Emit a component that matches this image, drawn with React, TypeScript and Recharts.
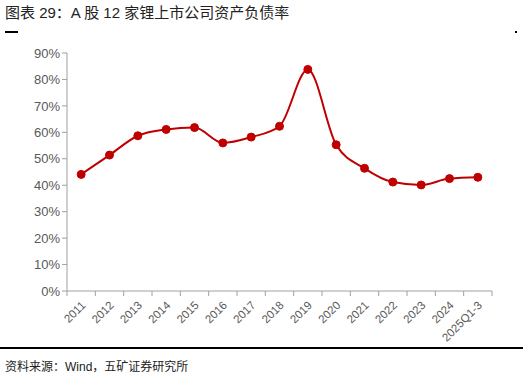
import { LineChart, Line, XAxis, YAxis } from 'recharts';

const years = ['2011', '2012', '2013', '2014', '2015', '2016', '2017', '2018', '2019', '2020', '2021', '2022', '2023', '2024', '2025Q1-3'];
const debtRatio = [44.1, 51.4, 58.7, 61.1, 61.8, 56.0, 58.2, 62.3, 83.8, 55.3, 46.4, 41.2, 40.1, 42.5, 43.0];
const yTicks = [0, 10, 20, 30, 40, 50, 60, 70, 80, 90];

const data = years.map((y, i) => ({ year: y, ratio: debtRatio[i] }));

const W = 523;
const H = 350;
const LEFT = 67;
const RIGHT = 31;
const band = (W - LEFT - RIGHT) / years.length;
const axisColor = '#a0a0a0';
const textColor = '#595959';
const cjk = '"Liberation Sans", "Noto Sans CJK SC", sans-serif';

function XTick(props: any) {
  const { x, y, payload, index } = props;
  const last = index === years.length - 1;
  return (
    <g>
      <line x1={x - band / 2} y1={y - 8} x2={x - band / 2} y2={y - 3} stroke={axisColor} />
      {last && <line x1={x + band / 2} y1={y - 8} x2={x + band / 2} y2={y - 3} stroke={axisColor} />}
      <text
        x={x + 5}
        y={y + 7}
        textAnchor="end"
        fontSize={11.5}
        fill={textColor}
        fontFamily='"Liberation Sans", sans-serif'
        transform={`rotate(-45 ${x + 5} ${y + 7})`}
      >
        {payload.value}
      </text>
    </g>
  );
}

export default function App() {
  return (
    <div style={{ position: 'absolute', left: 0, top: 0, width: W, height: 377, background: '#fff' }}>
      <div style={{ position: 'absolute', left: 5, top: 1, fontSize: 15, fontFamily: cjk, color: '#222', whiteSpace: 'nowrap' }}>
        图表 29：A 股 12 家锂上市公司资产负债率
      </div>
      <div style={{ position: 'absolute', left: 5, top: 31, width: 13, height: 2, background: '#000' }} />
      <div style={{ position: 'absolute', left: 515, top: 31, width: 2, height: 2, background: '#000' }} />
      <div style={{ position: 'absolute', left: 0, top: 0 }}>
        <LineChart width={W} height={H} data={data} margin={{ top: 53, right: RIGHT, bottom: 4, left: 0 }}>
          <XAxis
            dataKey="year"
            interval={0}
            height={55}
            stroke={axisColor}
            tickLine={false}
            padding={{ left: band / 2, right: band / 2 }}
            tick={<XTick />}
          />
          <YAxis
            width={LEFT}
            domain={[0, 90]}
            ticks={yTicks}
            tickFormatter={(v: number) => `${v}%`}
            stroke={axisColor}
            tickSize={5}
            tick={{ fill: textColor, fontSize: 13, fontFamily: '"Liberation Sans", sans-serif' }}
          />
          <Line
            type="monotone"
            dataKey="ratio"
            stroke="#c00000"
            strokeWidth={2}
            dot={{ r: 4, fill: '#c00000', stroke: '#c00000', strokeWidth: 1 }}
            isAnimationActive={false}
          />
        </LineChart>
      </div>
      <div style={{ position: 'absolute', left: 0, top: 347, width: W, height: 2, background: '#000' }} />
      <div style={{ position: 'absolute', left: 5, top: 357, fontSize: 12, fontFamily: cjk, color: '#222', whiteSpace: 'nowrap' }}>
        资料来源：Wind，五矿证券研究所
      </div>
    </div>
  );
}
